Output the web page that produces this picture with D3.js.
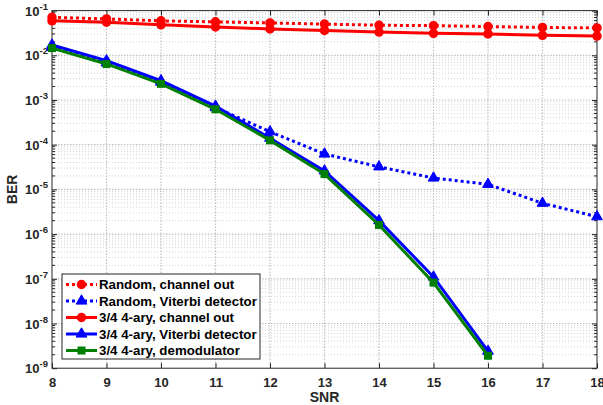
<!DOCTYPE html>
<html><head><meta charset="utf-8">
<script src="https://cdn.jsdelivr.net/npm/d3@7"></script>
<style>body{margin:0;background:#fff}svg{display:block;font-family:"Liberation Sans",Arial,sans-serif;font-weight:bold}</style>
</head><body><svg id="c" width="603" height="405"></svg>
<script>
const snrAll = [8,9,10,11,12,13,14,15,16,17,18];
const snrShort = [8,9,10,11,12,13,14,15,16];
const randomChannelOut = [0.071,0.065,0.059,0.056,0.053,0.050,0.047,0.046,0.044,0.042,0.041];
const randomViterbi = [0.015,0.0068,0.0025,6.8e-4,1.95e-4,6.2e-5,3.2e-5,1.8e-5,1.3e-5,4.9e-6,2.45e-6];
const ary4ChannelOut = [0.059,0.055,0.048,0.043,0.039,0.036,0.033,0.031,0.030,0.028,0.027];
const ary4Viterbi = [0.017,0.0076,0.0027,7.3e-4,1.4e-4,2.6e-5,2.0e-6,1.1e-7,2.4e-9];
const ary4Demod = [0.0145,0.0064,0.0023,6.2e-4,1.25e-4,2.2e-5,1.6e-6,8.2e-8,1.9e-9];
const xTicks = [8,9,10,11,12,13,14,15,16,17,18];
const yExps = [-1,-2,-3,-4,-5,-6,-7,-8,-9];
const seriesNames = ["Random, channel out","Random, Viterbi detector","3/4 4-ary, channel out","3/4 4-ary, Viterbi detector","3/4 4-ary, demodulator"];

const series = [
  {name:seriesNames[0], x:snrAll, y:randomChannelOut, color:"#ff0000", dash:"3,3", marker:"circle"},
  {name:seriesNames[1], x:snrAll, y:randomViterbi, color:"#0000ff", dash:"3,3", marker:"triangle"},
  {name:seriesNames[2], x:snrAll, y:ary4ChannelOut, color:"#ff0000", dash:null, marker:"circle"},
  {name:seriesNames[3], x:snrShort, y:ary4Viterbi, color:"#0000ff", dash:null, marker:"triangle"},
  {name:seriesNames[4], x:snrShort, y:ary4Demod, color:"#008000", dash:null, marker:"square"}
];

const svg = d3.select("#c");
const L=52, R=597, T=10.6, B=368.2;
const x = d3.scaleLinear().domain([8,18]).range([L,R]);
const y = d3.scaleLog().domain([1e-9,1e-1]).range([B,T]);

const g = svg.append("g");
const minorY=[];
for(let e=-9;e<-1;e++) for(let m=2;m<=9;m++) minorY.push(m*Math.pow(10,e));
g.selectAll(".my").data(minorY).enter().append("line")
  .attr("x1",L).attr("x2",R).attr("y1",d=>y(d)).attr("y2",d=>y(d))
  .attr("stroke","#d4d4d4").attr("stroke-width",1).attr("stroke-dasharray","1,2");
g.selectAll(".gx").data(xTicks.slice(1,-1)).enter().append("line")
  .attr("x1",d=>x(d)).attr("x2",d=>x(d)).attr("y1",T).attr("y2",B)
  .attr("stroke","#c0c0c0").attr("stroke-width",1.2).attr("stroke-dasharray","1.5,1.5");
g.selectAll(".gy").data(yExps.slice(1,-1)).enter().append("line")
  .attr("x1",L).attr("x2",R).attr("y1",d=>y(Math.pow(10,d))).attr("y2",d=>y(Math.pow(10,d)))
  .attr("stroke","#c0c0c0").attr("stroke-width",1.2).attr("stroke-dasharray","1.5,1.5");

const xAxisB = d3.axisBottom(x).tickValues(xTicks).tickSizeInner(-5).tickSizeOuter(0).tickFormat(d3.format("d"));
const gxB = svg.append("g").attr("transform",`translate(0,${B})`).call(xAxisB);
gxB.selectAll("text").attr("dy","1.05em").attr("y",5).style("font-size","13px").style("font-weight","bold").attr("fill","#262626");
const gxT = svg.append("g").attr("transform",`translate(0,${T})`).call(d3.axisTop(x).tickValues(xTicks).tickSizeInner(-5).tickSizeOuter(0).tickFormat(""));
const yTickVals = yExps.map(e=>Math.pow(10,e));
const gyL = svg.append("g").attr("transform",`translate(${L},0)`).call(d3.axisLeft(y).tickValues(yTickVals).tickSizeInner(-5).tickSizeOuter(0).tickFormat(""));
const gyR = svg.append("g").attr("transform",`translate(${R},0)`).call(d3.axisRight(y).tickValues(yTickVals).tickSizeInner(-5).tickSizeOuter(0).tickFormat(""));
[ [L,3],[R,-3] ].forEach(([px,len])=>{
  svg.append("g").selectAll("line").data(minorY).enter().append("line")
    .attr("x1",px).attr("x2",px+len).attr("y1",d=>y(d)).attr("y2",d=>y(d)).attr("stroke","#262626").attr("stroke-width",1);
});
[gxB,gxT,gyL,gyR].forEach(a=>{a.selectAll(".domain").remove();a.selectAll("line").attr("stroke","#262626");});
svg.append("rect").attr("x",L).attr("y",T).attr("width",R-L).attr("height",B-T).attr("fill","none").attr("stroke","#262626").attr("stroke-width",1);

const yl = svg.append("g");
yExps.forEach(e=>{
  const t = yl.append("text").attr("x",L-4).attr("y",y(Math.pow(10,e))+5).attr("text-anchor","end").attr("fill","#262626").style("font-size","13px");
  t.append("tspan").text("10");
  t.append("tspan").attr("dy",-6).style("font-size","9.5px").text(String(e));
});

svg.append("text").attr("x",(L+R)/2).attr("y",402).attr("text-anchor","middle").attr("fill","#262626").style("font-size","14px").text("SNR");
svg.append("text").attr("transform",`translate(17,${(T+B)/2}) rotate(-90)`).attr("text-anchor","middle").attr("fill","#262626").style("font-size","14px").text("BER");

function drawMarker(sel, type, color, cx, cy){
  if(type==="circle") sel.append("circle").attr("cx",cx).attr("cy",cy).attr("r",4).attr("fill",color).attr("stroke",color).attr("stroke-width",1.5);
  else if(type==="triangle") sel.append("path").attr("d",d3.symbol().type(d3.symbolTriangle).size(50)()).attr("transform",`translate(${cx},${cy})`).attr("fill",color).attr("stroke",color).attr("stroke-width",1);
  else sel.append("rect").attr("x",cx-4).attr("y",cy-4).attr("width",8).attr("height",8).attr("fill",color);
}
const line = d3.line().x(d=>x(d[0])).y(d=>y(d[1]));
const plot = svg.append("g");
series.forEach(s=>{
  const pts = s.x.map((v,i)=>[v,s.y[i]]);
  const p = plot.append("path").datum(pts).attr("d",line).attr("fill","none").attr("stroke",s.color).attr("stroke-width",3);
  if(s.dash) p.attr("stroke-dasharray",s.dash);
  const mg = plot.append("g");
  pts.forEach(d=>drawMarker(mg,s.marker,s.color,x(d[0]),y(d[1])));
});

const lg = svg.append("g");
lg.append("rect").attr("x",62).attr("y",274).attr("width",198).attr("height",85).attr("fill","#fff").attr("stroke","#262626").attr("stroke-width",1);
series.forEach((s,i)=>{
  const cy = 284.5 + i*16.5;
  const l = lg.append("line").attr("x1",66).attr("x2",97).attr("y1",cy).attr("y2",cy).attr("stroke",s.color).attr("stroke-width",3);
  if(s.dash) l.attr("stroke-dasharray",s.dash);
  drawMarker(lg,s.marker,s.color,81.5,cy);
  lg.append("text").attr("x",99).attr("y",cy+4.5).attr("fill","#000").style("font-size","13.3px").attr("textLength",null).text(s.name);
});
</script></body></html>
